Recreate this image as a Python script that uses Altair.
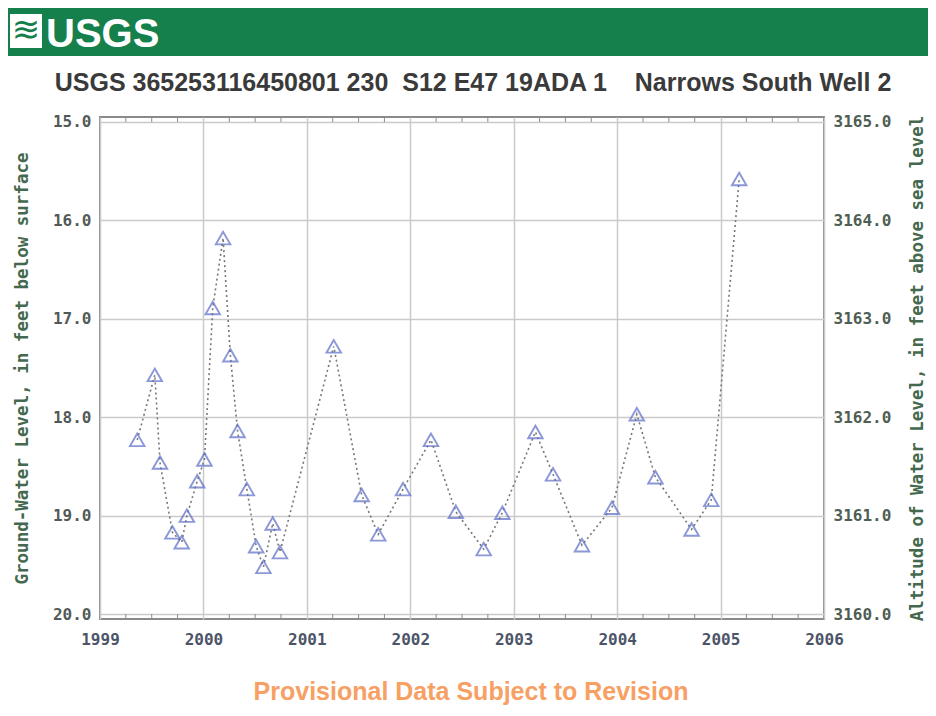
import altair as alt
import pandas as pd

# ---- data ----
years = [1999.36, 1999.53, 1999.58, 1999.70, 1999.79, 1999.84, 1999.94, 2000.01,
         2000.09, 2000.19, 2000.26, 2000.33, 2000.42, 2000.51, 2000.58, 2000.67,
         2000.74, 2001.26, 2001.53, 2001.69, 2001.93, 2002.20, 2002.44, 2002.71,
         2002.89, 2003.21, 2003.38, 2003.66, 2003.95, 2004.19, 2004.37, 2004.72,
         2004.91, 2005.18]
depths = [18.23, 17.57, 18.46, 19.17, 19.27, 19.00, 18.65, 18.43,
          16.89, 16.18, 17.37, 18.14, 18.73, 19.31, 19.52, 19.08,
          19.37, 17.28, 18.79, 19.19, 18.73, 18.23, 18.96, 19.34,
          18.97, 18.15, 18.58, 19.30, 18.92, 17.97, 18.61, 19.14,
          18.84, 15.58]
x_ticks = [1999, 2000, 2001, 2002, 2003, 2004, 2005, 2006]
y_ticks = [15.0, 16.0, 17.0, 18.0, 19.0, 20.0]
alt_ticks = [3160.0, 3161.0, 3162.0, 3163.0, 3164.0, 3165.0]
minor_ticks = [1999.25, 1999.5, 1999.75, 2000.25, 2000.5, 2000.75, 2001.25, 2001.5,
               2001.75, 2002.25, 2002.5, 2002.75, 2003.25, 2003.5, 2003.75, 2004.25,
               2004.5, 2004.75, 2005.25, 2005.5, 2005.75]
datum = 3180.0
header_text = "USGS"
title_text = ("USGS 365253116450801 230\u00a0\u00a0S12 E47 19ADA 1"
              "\u00a0\u00a0\u00a0\u00a0Narrows South Well 2")
footer_text = "Provisional Data Subject to Revision"
left_title = "Ground-Water Level, in feet below surface"
right_title = "Altitude of Water Level, in feet above sea level"

W, H = 724, 502
mono = "DejaVu Sans Mono"
sans = "Liberation Sans, Arial, sans-serif"
green = "#15804b"

df = pd.DataFrame({"year": years, "depth": depths})
df["altitude"] = datum - df["depth"]
minor_df = pd.DataFrame({"q": minor_ticks})
one = pd.DataFrame({"a": [0]})

xscale = alt.Scale(domain=[1999, 2006], nice=False, zero=False)
yscale = alt.Scale(domain=[14.95, 20.05], reverse=True, nice=False, zero=False)
ascale = alt.Scale(domain=[3159.95, 3165.05], nice=False, zero=False)

x_axis = alt.Axis(values=x_ticks, format="d", title=None, labelFont=mono,
                  labelFontSize=16, labelFontWeight="bold", labelColor="#4c5468",
                  ticks=False, domain=False, grid=True, gridColor="#cacaca",
                  gridWidth=1.5, labelPadding=12, labelFlush=False)
y_axis = alt.Axis(values=y_ticks, format=".1f", title=left_title, labelFont=mono,
                  labelFontSize=16, labelFontWeight="bold", labelColor="#525a58",
                  ticks=False, domain=False, grid=True, gridColor="#cacaca",
                  gridWidth=1.5, labelPadding=9,
                  titleFont=mono, titleFontSize=17.5, titleFontWeight="bold",
                  titleColor="#44694f", titleAngle=270, titleX=-78, titleY=H / 2,
                  titleAlign="center", titleBaseline="middle")
a_axis = alt.Axis(orient="right", values=alt_ticks, format=".1f", title=right_title,
                  labelFont=mono, labelFontSize=16, labelFontWeight="bold",
                  labelColor="#4e5e54", ticks=False, domain=False, grid=False,
                  labelPadding=9, titleFont=mono, titleFontSize=17.5,
                  titleFontWeight="bold", titleColor="#44694f", titleAngle=270,
                  titleX=93, titleY=H / 2, titleAlign="center", titleBaseline="middle")

base = alt.Chart(df)
line = base.mark_line(strokeDash=[2, 3], color="#777777", strokeWidth=1.6).encode(
    x=alt.X("year:Q", scale=xscale, axis=x_axis),
    y=alt.Y("depth:Q", scale=yscale, axis=y_axis),
)
pts = base.mark_point(shape="triangle-up", size=210, filled=False, color="#5b6cc6",
                      strokeWidth=1.9).encode(
    x=alt.X("year:Q", scale=xscale, axis=x_axis),
    y=alt.Y("depth:Q", scale=yscale, axis=y_axis),
)
minor_bot = alt.Chart(minor_df).mark_rule(color="#8c8c8c", strokeWidth=1).encode(
    x=alt.X("q:Q", scale=xscale, axis=x_axis), y=alt.value(H), y2=alt.value(H - 5))
minor_top = alt.Chart(minor_df).mark_rule(color="#8c8c8c", strokeWidth=1).encode(
    x=alt.X("q:Q", scale=xscale, axis=x_axis), y=alt.value(0), y2=alt.value(5))

inner = alt.layer(line, pts, minor_bot, minor_top)

right = base.mark_line(opacity=0).encode(
    x=alt.X("year:Q", scale=xscale, axis=x_axis),
    y=alt.Y("altitude:Q", scale=ascale, axis=a_axis),
)

dec = alt.Chart(one)
band = dec.mark_rect(color=green).encode(
    x=alt.value(-92), x2=alt.value(828), y=alt.value(-109), y2=alt.value(-61))
icon = dec.mark_rect(color="white").encode(
    x=alt.value(-90), x2=alt.value(-58), y=alt.value(-103), y2=alt.value(-69))
icon_mark = dec.mark_text(text="\u224b", font="DejaVu Sans", fontSize=34,
                          color=green, align="center", baseline="middle").encode(
    x=alt.value(-74), y=alt.value(-86))
logo = dec.mark_text(text=header_text, font=sans, fontSize=40, fontWeight="bold",
                     color="white", align="left", baseline="alphabetic").encode(
    x=alt.value(-54), y=alt.value(-70))
title = dec.mark_text(text=title_text, font=sans, fontSize=25, fontWeight="bold",
                      color="#3a3a3a", align="center", baseline="alphabetic").encode(
    x=alt.value(373), y=alt.value(-26))
footer = dec.mark_text(text=footer_text, font=sans, fontSize=25, fontWeight="bold",
                       color="#f7a064", align="center", baseline="alphabetic").encode(
    x=alt.value(371), y=alt.value(583))

chart = alt.layer(
    band, icon, icon_mark, logo, title, footer, inner, right
).resolve_scale(y="independent").properties(
    width=W, height=H,
    autosize=alt.AutoSizeParams(type="none"),
    padding={"left": 92, "top": 109, "right": 104, "bottom": 88},
    background="white",
).configure_view(stroke="#8a8a8a", strokeWidth=2)

chart.save("out.html", embed_options={"renderer": "svg", "actions": False})
